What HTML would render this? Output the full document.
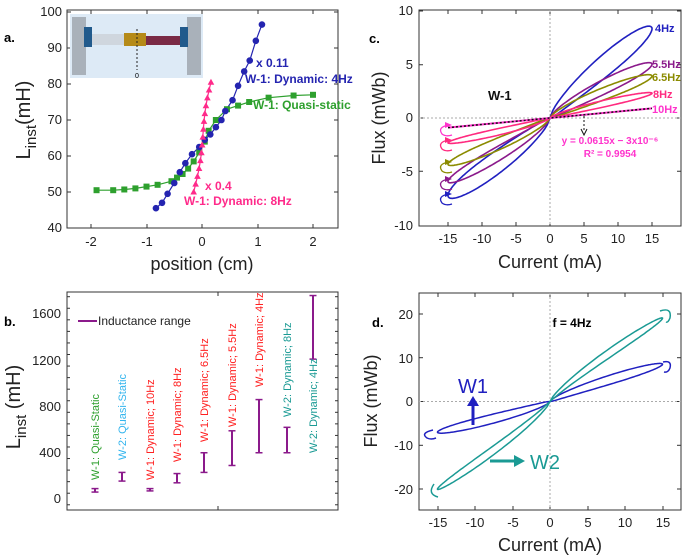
<!DOCTYPE html>
<html><head><meta charset="utf-8"><style>
body{margin:0;background:#fff}
svg{display:block;font-family:"Liberation Sans",sans-serif}
</style></head><body>
<svg id="s" width="685" height="560" viewBox="0 0 685 560" xmlns="http://www.w3.org/2000/svg">
<!-- Panel a -->
<text x="4" y="42" font-size="13" font-weight="bold">a.</text>
<rect x="67" y="10" width="271" height="218" fill="none" stroke="#333" stroke-width="1"/>
<g id="tk"></g>
<g font-size="13" fill="#222" text-anchor="end">
<text x="62" y="16">100</text><text x="62" y="52">90</text><text x="62" y="88">80</text><text x="62" y="124">70</text><text x="62" y="160">60</text><text x="62" y="196">50</text><text x="62" y="232">40</text>
</g>
<g font-size="13" fill="#222" text-anchor="middle">
<text x="91" y="246">-2</text><text x="147" y="246">-1</text><text x="202" y="246">0</text><text x="258" y="246">1</text><text x="313" y="246">2</text>
</g>
<text x="202" y="270" font-size="18" text-anchor="middle" fill="#222">position (cm)</text>
<text transform="translate(30,120) rotate(-90)" font-size="20" text-anchor="middle" fill="#222">L<tspan font-size="15" dy="6">inst</tspan><tspan dy="-6">(mH)</tspan></text>
<g id="ga"></g>
<!-- inset -->
<rect x="70" y="14" width="133" height="64" fill="#ddeaf6"/>
<rect x="72" y="17" width="14" height="58" fill="#a9b1ba"/>
<rect x="187" y="17" width="14" height="58" fill="#a9b1ba"/>
<rect x="84" y="27" width="8" height="20" fill="#215a8c"/>
<rect x="180" y="27" width="8" height="20" fill="#215a8c"/>
<rect x="92" y="34" width="32" height="11" fill="#cfd6de"/>
<rect x="146" y="36" width="34" height="9" fill="#7a2a45"/>
<rect x="124" y="33" width="22" height="13" fill="#b58a18"/>
<line x1="137" y1="29" x2="137" y2="70" stroke="#222" stroke-dasharray="2,2"/>
<text x="137" y="78" font-size="7" text-anchor="middle">0</text>
<g font-size="12" font-weight="bold">
<text x="256" y="67" fill="#2424b0">x 0.11</text>
<text x="245" y="83" fill="#2424b0">W-1: Dynamic: 4Hz</text>
<text x="253" y="109" fill="#2ea02e">W-1: Quasi-static</text>
<text x="205" y="190" fill="#ff2a8a">x 0.4</text>
<text x="184" y="205" fill="#ff2a8a">W-1: Dynamic: 8Hz</text>
</g>

<!-- Panel b -->
<text x="4" y="326" font-size="13" font-weight="bold">b.</text>
<rect x="67" y="292" width="271" height="218" fill="none" stroke="#333" stroke-width="1"/>
<g id="gbt"></g>
<g font-size="13" fill="#222" text-anchor="end">
<text x="61" y="503">0</text><text x="61" y="457">400</text><text x="61" y="411">800</text><text x="61" y="365">1200</text><text x="61" y="318">1600</text>
</g>
<text transform="translate(20,407) rotate(-90)" font-size="20" text-anchor="middle" fill="#222">L<tspan font-size="15" dy="6">inst</tspan><tspan dy="-6"> (mH)</tspan></text>
<line x1="78" y1="321" x2="97" y2="321" stroke="#8b1a8b" stroke-width="2"/>
<text x="98" y="325" font-size="12" fill="#222">Inductance range</text>
<g id="gb"></g>

<!-- Panel c -->
<text x="369" y="43" font-size="13" font-weight="bold">c.</text>
<rect x="419" y="10" width="262" height="216" fill="none" stroke="#333"/>
<line x1="550" y1="10" x2="550" y2="226" stroke="#aaa" stroke-dasharray="2,2"/>
<line x1="419" y1="118" x2="681" y2="118" stroke="#aaa" stroke-dasharray="2,2"/>
<g font-size="13" fill="#222" text-anchor="end">
<text x="413" y="15">10</text><text x="413" y="69">5</text><text x="413" y="122">0</text><text x="413" y="176">-5</text><text x="413" y="230">-10</text>
</g>
<g font-size="13" fill="#222" text-anchor="middle">
<text x="448" y="243">-15</text><text x="482" y="243">-10</text><text x="516" y="243">-5</text><text x="550" y="243">0</text><text x="584" y="243">5</text><text x="618" y="243">10</text><text x="652" y="243">15</text>
</g>
<text x="550" y="268" font-size="18" text-anchor="middle" fill="#222">Current (mA)</text>
<text transform="translate(385,118) rotate(-90)" font-size="18" text-anchor="middle" fill="#222">Flux (mWb)</text>
<g id="gc"></g>
<g font-size="11" font-weight="bold">
<text x="655" y="32" fill="#2020c0">4Hz</text>
<text x="652" y="68" fill="#8b1a8b">5.5Hz</text>
<text x="652" y="81" fill="#8b8b00">6.5Hz</text>
<text x="653" y="98" fill="#ff2a7f">8Hz</text>
<text x="652" y="113" fill="#ff33cc">10Hz</text>
<text x="488" y="100" fill="#111" font-size="13">W-1</text>
<text x="610" y="144" fill="#ff33cc" text-anchor="middle" font-size="10">y = 0.0615x − 3x10⁻⁶</text>
<text x="610" y="157" fill="#ff33cc" text-anchor="middle" font-size="10">R² = 0.9954</text>
</g>
<line x1="584" y1="116" x2="584" y2="132" stroke="#111" stroke-dasharray="2,2"/>
<path d="M581,129 L584,135 L587,129" fill="none" stroke="#111"/>

<!-- Panel d -->
<text x="372" y="327" font-size="13" font-weight="bold">d.</text>
<rect x="419" y="293" width="262" height="217" fill="none" stroke="#333"/>
<line x1="550" y1="293" x2="550" y2="510" stroke="#aaa" stroke-dasharray="2,2"/>
<line x1="419" y1="401.5" x2="681" y2="401.5" stroke="#aaa" stroke-dasharray="2,2"/>
<g font-size="13" fill="#222" text-anchor="end">
<text x="413" y="319">20</text><text x="413" y="363">10</text><text x="413" y="406">0</text><text x="413" y="450">-10</text><text x="413" y="494">-20</text>
</g>
<g font-size="13" fill="#222" text-anchor="middle">
<text x="438" y="527">-15</text><text x="475" y="527">-10</text><text x="513" y="527">-5</text><text x="550" y="527">0</text><text x="588" y="527">5</text><text x="625" y="527">10</text><text x="663" y="527">15</text>
</g>
<text x="550" y="551" font-size="18" text-anchor="middle" fill="#222">Current (mA)</text>
<text transform="translate(377,401) rotate(-90)" font-size="18" text-anchor="middle" fill="#222">Flux (mWb)</text>
<text x="572" y="327" font-size="12" font-weight="bold" text-anchor="middle">f = 4Hz</text>
<g id="gd"></g>
<text x="473" y="393" font-size="20" fill="#2020c0" text-anchor="middle">W1</text>
<line x1="473" y1="425" x2="473" y2="405" stroke="#2020c0" stroke-width="3"/>
<path d="M467,406 L473,396 L479,406 Z" fill="#2020c0"/>
<text x="545" y="469" font-size="20" fill="#1a9a94" text-anchor="middle">W2</text>
<line x1="490" y1="461" x2="515" y2="461" stroke="#1a9a94" stroke-width="3"/>
<path d="M514,455 L525,461 L514,467 Z" fill="#1a9a94"/>
</svg>
<script>
const NS="http://www.w3.org/2000/svg";
function el(p,t,a){const e=document.createElementNS(NS,t);for(const k in a)e.setAttribute(k,a[k]);document.getElementById(p).appendChild(e);return e;}
function xt(xs,y0,y1){xs.forEach(x=>{el("tk","line",{x1:x,y1:y1,x2:x,y2:y1-4,stroke:"#333"});el("tk","line",{x1:x,y1:y0,x2:x,y2:y0+4,stroke:"#333"});});}
function yt(ys,x0,x1){ys.forEach(y=>{el("tk","line",{x1:x0,y1:y,x2:x0+4,y2:y,stroke:"#333"});el("tk","line",{x1:x1,y1:y,x2:x1-4,y2:y,stroke:"#333"});});}
xt([91,147,202,258,313],10,228);yt([12,48,84,120,156,192],67,338);
xt([448,482,516,550,584,618,652],10,226);yt([11,64.75,118,171.25],419,681);
xt([438,475,513,550,588,625,663],293,510);yt([314,357.7,401.5,445.3,489],419,681);
const ax=v=>202+v*55.5, ay=v=>12+(100-v)*3.6;
const green=[[-1.9,50.5],[-1.6,50.5],[-1.4,50.7],[-1.2,51],[-1,51.5],[-0.8,52],[-0.55,53],[-0.45,54],[-0.35,55],[-0.25,56.5],[-0.15,58.5],[-0.05,61],[0.05,64],[0.12,67],[0.25,70],[0.45,73],[0.65,74],[0.85,75],[1.2,76.2],[1.65,76.8],[2.0,77]];
const blue=[[-0.83,45.5],[-0.72,47],[-0.62,49.5],[-0.5,52.5],[-0.4,55.5],[-0.3,58],[-0.18,60.5],[-0.05,62.5],[0.05,64.5],[0.15,66],[0.25,68],[0.35,70],[0.42,72.5],[0.55,75.5],[0.65,79.5],[0.76,83.5],[0.86,86.5],[0.97,92],[1.08,96.5]];
const pink=[];for(let i=0;i<=14;i++){const t=i/14;pink.push([-0.15+0.32*t+0.03*Math.sin(t*6),50+30.5*t]);}
function poly(g,pts,c){el(g,"polyline",{points:pts.map(p=>ax(p[0])+","+ay(p[1])).join(" "),fill:"none",stroke:c,"stroke-width":1.2});}
poly("ga",green,"#2ea02e");poly("ga",blue,"#2424b0");poly("ga",pink,"#ff2a8a");
green.forEach(p=>el("ga","rect",{x:ax(p[0])-3,y:ay(p[1])-3,width:6,height:6,fill:"#2ea02e"}));
blue.forEach(p=>el("ga","circle",{cx:ax(p[0]),cy:ay(p[1]),r:3.3,fill:"#2424b0"}));
pink.forEach(p=>{const x=ax(p[0]),y=ay(p[1]);el("ga","path",{d:`M${x},${y-3.5} L${x+3.3},${y+2.5} L${x-3.3},${y+2.5}Z`,fill:"#ff2a8a"});});
const by=v=>499-v*0.1156;
for(let v=-50;v<=1800;v+=100){const y=by(v);if(y<292||y>510)continue;const L=(v%400==0)?5:3;el("gbt","line",{x1:67,y1:y,x2:67+L,y2:y,stroke:"#333"});el("gbt","line",{x1:338,y1:y,x2:338-L,y2:y,stroke:"#333"});}
el("gbt","line",{x1:218,y1:292,x2:218,y2:296,stroke:"#333"});el("gbt","line",{x1:218,y1:510,x2:218,y2:506,stroke:"#333"});
const bars=[[95,60,90,"W-1: Quasi-Static","#2ea02e",480],[122,155,230,"W-2: Quasi-Static","#33b5ee",460],[150,70,90,"W-1: Dynamic; 10Hz","#ff2020",480],[177,140,220,"W-1: Dynamic; 8Hz","#ff2020",462],[204,230,400,"W-1: Dynamic; 6.5Hz","#ff2020",442],[232,290,590,"W-1: Dynamic; 5.5Hz","#ff2020",427],[259,400,860,"W-1: Dynamic; 4Hz","#ff2020",387],[287,400,620,"W-2: Dynamic; 8Hz","#1a9a94",417],[313,1210,1760,"W-2: Dynamic; 4Hz","#1a9a94",453]];
bars.forEach(b=>{const[x,lo,hi,t,c,yb]=b;const c2="#8b1a8b";
el("gb","line",{x1:x,y1:by(lo),x2:x,y2:by(hi),stroke:c2,"stroke-width":2});
el("gb","line",{x1:x-3.5,y1:by(lo),x2:x+3.5,y2:by(lo),stroke:c2,"stroke-width":1.5});
el("gb","line",{x1:x-3.5,y1:by(hi),x2:x+3.5,y2:by(hi),stroke:c2,"stroke-width":1.5});
const e=el("gb","text",{transform:`translate(${x+4},${yb}) rotate(-90)`,"font-size":11,fill:c});e.textContent=t;});
function loop(g,cx,cy,sx,sy,pos,neg,w,col,sw){let d="";for(let i=0;i<=240;i++){const t=i/240*2*Math.PI;const c=Math.cos(t);const x=15*c;const base=(c>=0?pos:neg)*Math.pow(Math.abs(c),0.85)*Math.sign(c);const y=base+w*Math.sin(t)*Math.pow(Math.abs(c),0.5);d+=(i?"L":"M")+(cx+x*sx).toFixed(1)+","+(cy-y*sy).toFixed(1);}el(g,"path",{d:d,fill:"none",stroke:col,"stroke-width":sw});}
const csx=6.8,csy=10.75;
loop("gc",550,118,csx,csy,8.3,7.2,1.9,"#2020c0",1.6);
loop("gc",550,118,csx,csy,5.0,5.9,1.15,"#8b1a8b",1.6);
loop("gc",550,118,csx,csy,3.9,4.3,0.95,"#8b8b00",1.6);
loop("gc",550,118,csx,csy,2.3,2.3,0.5,"#ff2a7f",1.6);
el("gc","line",{x1:550-15*csx,y1:118+0.9*csy,x2:550+15*csx,y2:118-0.9*csy,stroke:"#ff33cc","stroke-width":2});
el("gc","line",{x1:550-15*csx,y1:118+0.9*csy,x2:550+15*csx,y2:118-0.9*csy,stroke:"#111","stroke-width":1.5,"stroke-dasharray":"2,2"});
[[125,"#ff33cc"],[140,"#ff2a7f"],[162,"#8b8b00"],[179,"#8b1a8b"],[194,"#2020c0"]].forEach(a=>{const[y,c]=a;el("gc","path",{d:`M449,${y} Q437,${y+2} 442,${y+9} Q446,${y+12} 452,${y+10}`,fill:"none",stroke:c,"stroke-width":1.3});el("gc","path",{d:`M445,${y-3} L452,${y} L445,${y+3}Z`,fill:c});});
const dsx=7.5,dsy=4.38;
loop("gd",550,401.5,dsx,dsy,8.5,7,1.7,"#2020c0",1.5);
loop("gd",550,401.5,dsx,dsy,19,20,1.7,"#1a9a94",1.5);
el("gd","path",{d:"M663,362 Q672,360 670,368 Q668,373 664,372",fill:"none",stroke:"#2020c0","stroke-width":1.5});
el("gd","path",{d:"M433,430 Q420,433 427,438 Q431,440 436,438",fill:"none",stroke:"#2020c0","stroke-width":1.5});
el("gd","path",{d:"M660,311 Q672,307 670,318 Q668,323 666,322",fill:"none",stroke:"#1a9a94","stroke-width":1.5});
el("gd","path",{d:"M434,484 Q427,494 438,497",fill:"none",stroke:"#1a9a94","stroke-width":1.5});
</script>
</body></html>
